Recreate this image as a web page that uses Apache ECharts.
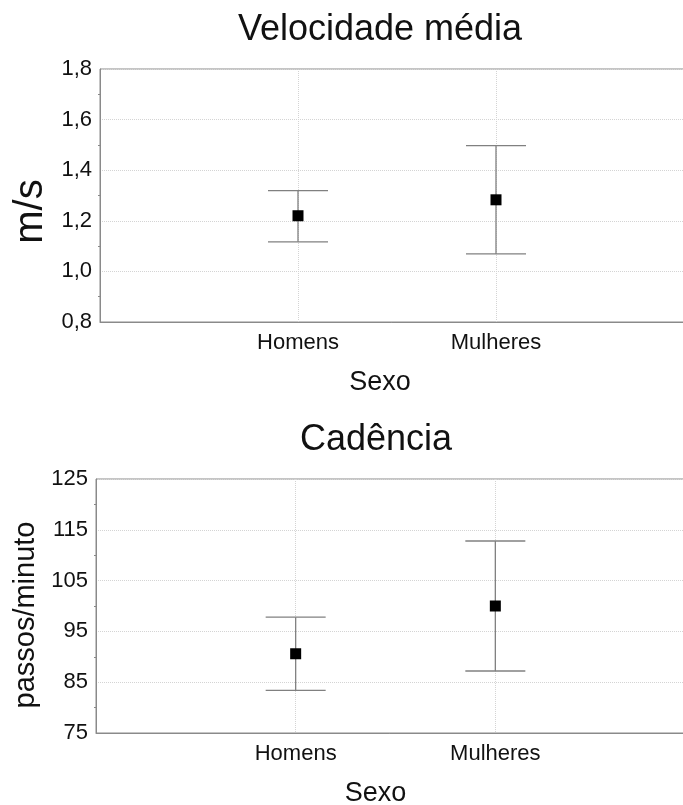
<!DOCTYPE html>
<html>
<head>
<meta charset="utf-8">
<script src="https://cdn.jsdelivr.net/npm/echarts@6/dist/echarts.min.js"></script>
<style>
html,body{margin:0;padding:0;background:#fff;}
#chart{width:683px;height:805px;}
</style>
</head>
<body>
<div id="chart"></div>
<script>
// ---- data ----
const categories = ['Homens', 'Mulheres'];
const velMean = [1.22, 1.283];
const velLow = [1.117, 1.069];
const velHigh = [1.319, 1.497];
const cadMean = [90.6, 100.0];
const cadLow = [83.4, 87.2];
const cadHigh = [97.8, 112.8];
const titles = ['Velocidade média', 'Cadência'];
const xName = 'Sexo';
const yNames = ['m/s', 'passos/minuto'];

const FONT = 'Liberation Sans, Arial, sans-serif';
const axisCats = [''].concat(categories, ['']);
const axisColor = '#8a8a8a';

function errData(low, high) {
  return categories.map((c, i) => [c, low[i], high[i]]);
}
function meanData(mean) {
  return categories.map((c, i) => [c, mean[i]]);
}
function renderErr(params, api) {
  const c = api.value(0);
  const lo = api.coord([c, api.value(1)]);
  const hi = api.coord([c, api.value(2)]);
  const hw = 30;
  const style = { stroke: '#808080', lineWidth: 1.3 };
  return {
    type: 'group',
    children: [
      { type: 'line', shape: { x1: lo[0], y1: lo[1], x2: hi[0], y2: hi[1] }, style },
      { type: 'line', shape: { x1: hi[0] - hw, y1: hi[1], x2: hi[0] + hw, y2: hi[1] }, style },
      { type: 'line', shape: { x1: lo[0] - hw, y1: lo[1], x2: lo[0] + hw, y2: lo[1] }, style }
    ]
  };
}
function xAxisCfg(gi, padRight) {
  return {
    type: 'category', gridIndex: gi, data: axisCats, boundaryGap: false,
    axisLine: { show: true, lineStyle: { color: axisColor, width: 1 } },
    axisTick: { show: false },
    axisLabel: { color: '#111', fontFamily: FONT, fontSize: 22, margin: 10, interval: 0 },
    splitLine: { show: true, lineStyle: { type: 'dotted', color: '#d4d4d4' } },
    name: xName, nameLocation: 'middle', nameGap: 47,
    nameTextStyle: { color: '#111', fontFamily: FONT, fontSize: 27, padding: [0, padRight, 0, 0] }
  };
}
function yAxisCfg(gi, min, max, interval, fmt, name, nameSize, nameGap, padRight) {
  return {
    type: 'value', gridIndex: gi, min, max, interval,
    axisLine: { show: true, lineStyle: { color: axisColor, width: 1 } },
    axisTick: { show: false },
    minorTick: { show: true, splitNumber: 2, length: 2, lineStyle: { color: '#888' } },
    axisLabel: { color: '#111', fontFamily: FONT, fontSize: 22, margin: 8, formatter: fmt },
    splitLine: { show: true, lineStyle: { type: 'dotted', color: '#d4d4d4' } },
    name, nameLocation: 'middle', nameGap, nameRotate: 90,
    nameTextStyle: { color: '#111', fontFamily: FONT, fontSize: nameSize, padding: [0, padRight, 0, 0] }
  };
}

const chart = echarts.init(document.getElementById('chart'), null, { renderer: 'canvas' });
chart.setOption({
  animation: false,
  backgroundColor: '#fff',
  title: [
    { text: titles[0], left: 375, top: 7, textAlign: 'center',
      textStyle: { fontFamily: FONT, fontSize: 36, fontWeight: 'normal', color: '#111' } },
    { text: titles[1], left: 371, top: 417, textAlign: 'center',
      textStyle: { fontFamily: FONT, fontSize: 36, fontWeight: 'normal', color: '#111' } }
  ],
  grid: [
    { left: 100, top: 69, width: 594, height: 253, show: true, borderColor: axisColor, borderWidth: 1,
      backgroundColor: 'transparent', outerBoundsMode: 'none', containLabel: false },
    { left: 96, top: 479, width: 599, height: 254, show: true, borderColor: axisColor, borderWidth: 1,
      backgroundColor: 'transparent', outerBoundsMode: 'none', containLabel: false }
  ],
  xAxis: [xAxisCfg(0, 34), xAxisCfg(1, 40)],
  yAxis: [
    yAxisCfg(0, 0.8, 1.8, 0.2, v => v.toFixed(1).replace('.', ','), yNames[0], 40, 48, 32),
    yAxisCfg(1, 75, 125, 10, v => String(v), yNames[1], 29, 52, 18)
  ],
  series: [
    { type: 'custom', xAxisIndex: 0, yAxisIndex: 0, renderItem: renderErr, data: errData(velLow, velHigh), z: 2 },
    { type: 'scatter', xAxisIndex: 0, yAxisIndex: 0, symbol: 'rect', symbolSize: 11,
      itemStyle: { color: '#000', opacity: 1 }, data: meanData(velMean), z: 3 },
    { type: 'custom', xAxisIndex: 1, yAxisIndex: 1, renderItem: renderErr, data: errData(cadLow, cadHigh), z: 2 },
    { type: 'scatter', xAxisIndex: 1, yAxisIndex: 1, symbol: 'rect', symbolSize: 11,
      itemStyle: { color: '#000', opacity: 1 }, data: meanData(cadMean), z: 3 }
  ]
});
</script>
</body>
</html>
